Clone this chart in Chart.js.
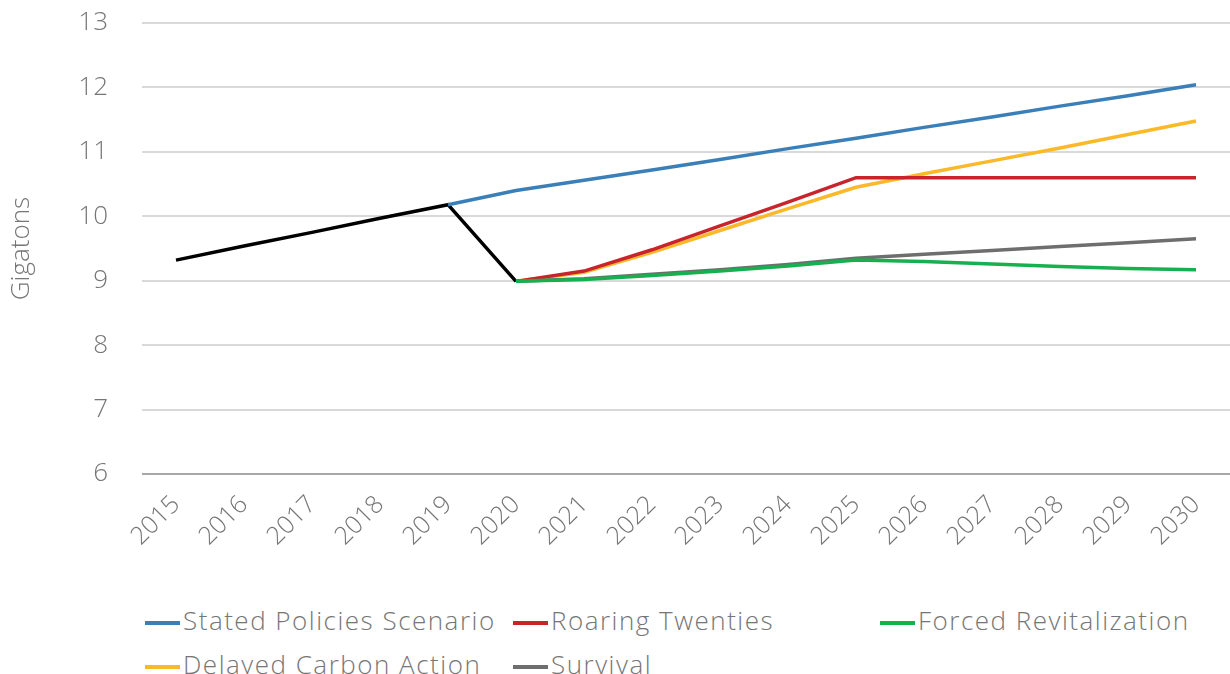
<!DOCTYPE html>
<html>
<head>
<meta charset="utf-8">
<script src="https://cdn.jsdelivr.net/npm/chart.js@4/dist/chart.umd.min.js"></script>
<style>
  html, body { margin: 0; padding: 0; background: #fff; }
  #wrap { position: relative; width: 1230px; height: 674px; overflow: hidden; }
  #box { position: absolute; left: 0; top: 0; width: 1230px; height: 592px; }
  .leg { position: absolute; font-family: "Open Sans", Lato, sans-serif; font-weight: 300; font-size: 26px; letter-spacing: 1.5px; color: #767676; white-space: nowrap; line-height: 30px; }
  .leg span.sw { display: inline-block; width: 35px; height: 4px; vertical-align: middle; margin-right: 3px; position: relative; top: 0px; }
</style>
</head>
<body>
<div id="wrap">
  <div id="box"><canvas id="c"></canvas></div>
  <div id="legend"></div>
</div>
<script>
const years = ['2015','2016','2017','2018','2019','2020','2021','2022','2023','2024','2025','2026','2027','2028','2029','2030'];
const yTicks = [6, 7, 8, 9, 10, 11, 12, 13];

const historical    = [9.32, 9.54, 9.75, 9.97, 10.18, 8.99, null, null, null, null, null, null, null, null, null, null];
const statedPolicies = [null, null, null, null, 10.18, 10.40, 10.56, 10.72, 10.88, 11.05, 11.21, 11.38, 11.54, 11.71, 11.87, 12.04];
const roaringTwenties = [null, null, null, null, null, 8.99, 9.15, 9.48, 9.85, 10.22, 10.60, 10.60, 10.60, 10.60, 10.60, 10.60];
const forcedRevitalization = [null, null, null, null, null, 8.99, 9.02, 9.08, 9.15, 9.23, 9.32, 9.30, 9.26, 9.22, 9.19, 9.17];
const delayedCarbon = [null, null, null, null, null, 8.99, 9.13, 9.44, 9.78, 10.12, 10.45, 10.66, 10.86, 11.06, 11.27, 11.48];
const survival = [null, null, null, null, null, 8.99, 9.03, 9.10, 9.17, 9.25, 9.35, 9.41, 9.47, 9.53, 9.59, 9.65];

const seriesNames = ['Stated Policies Scenario', 'Roaring Twenties', 'Forced Revitalization', 'Delayed Carbon Action', 'Survival'];
const seriesColors = ['#3a7fb8', '#c8242c', '#16b04f', '#fbb829', '#6e6e6e'];
const seriesData = [statedPolicies, roaringTwenties, forcedRevitalization, delayedCarbon, survival];

const FONT = '"Open Sans", Lato, sans-serif';
const TXT = '#767676';

const order = [2, 4, 1, 3, 0];
const datasets = order.map(i => ({
  label: seriesNames[i],
  data: seriesData[i],
  borderColor: seriesColors[i],
  backgroundColor: seriesColors[i],
  borderWidth: 3.5,
  pointRadius: 0,
  tension: 0,
  spanGaps: false
}));
datasets.push({
  label: 'Historical',
  data: historical,
  borderColor: '#000000',
  backgroundColor: '#000000',
  borderWidth: 3.5,
  pointRadius: 0,
  tension: 0
});

new Chart(document.getElementById('c'), {
  type: 'line',
  data: { labels: years, datasets: datasets },
  options: {
    responsive: true,
    maintainAspectRatio: false,
    animation: false,
    layout: { padding: { top: 23, right: 0, bottom: 0, left: 0 } },
    plugins: { legend: { display: false }, tooltip: { enabled: false } },
    scales: {
      x: {
        offset: true,
        grid: { display: false, drawTicks: false },
        border: { display: false },
        ticks: {
          color: TXT,
          font: { family: FONT, size: 25, weight: 300 },
          minRotation: 45, maxRotation: 45,
          padding: 16,
          autoSkip: false
        },
        afterFit: s => { s.height = 592 - 474; s.paddingLeft = 0; s.paddingRight = 0; }
      },
      y: {
        min: 6, max: 13,
        afterBuildTicks: s => { s.ticks = yTicks.map(v => ({ value: v })); },
        grid: {
          color: ctx => ctx.tick && ctx.tick.value === 6 ? '#a8a8a8' : '#d9d9d9',
          lineWidth: 2,
          drawTicks: false
        },
        border: { display: false },
        ticks: { color: TXT, font: { family: FONT, size: 26, weight: 300 }, padding: 34 },
        title: { display: true, text: 'Gigatons', color: TXT, font: { family: FONT, size: 26, weight: 300 }, padding: { top: 6, bottom: 0 } },
        afterFit: s => { s.width = 142; s.paddingTop = 0; s.paddingBottom = 0; }
      }
    }
  }
});

const legendPos = [
  { x: 145, y: 605 }, { x: 513, y: 605 }, { x: 880, y: 605 },
  { x: 145, y: 649 }, { x: 513, y: 649 }
];
const legendEl = document.getElementById('legend');
seriesNames.forEach((name, i) => {
  const d = document.createElement('div');
  d.className = 'leg';
  d.style.left = legendPos[i].x + 'px';
  d.style.top = legendPos[i].y + 'px';
  const sw = document.createElement('span');
  sw.className = 'sw';
  sw.style.background = seriesColors[i];
  d.appendChild(sw);
  d.appendChild(document.createTextNode(name));
  legendEl.appendChild(d);
});
</script>
</body>
</html>
